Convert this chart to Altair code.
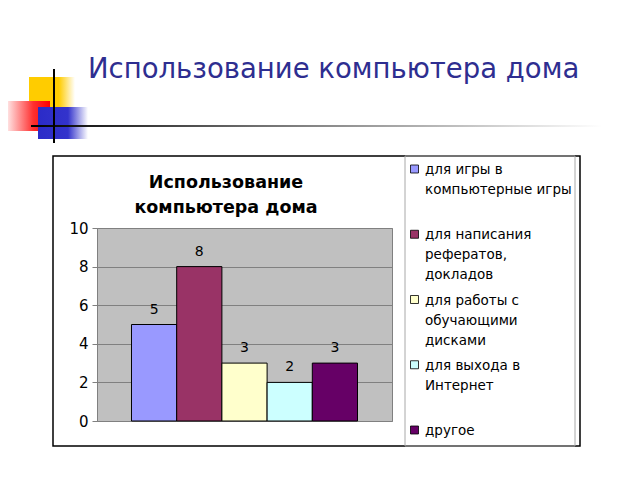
import altair as alt
import pandas as pd

# ---- data ----
categories = [
    "для игры в компьютерные игры",
    "для написания рефератов, докладов",
    "для работы с обучающими дисками",
    "для выхода в Интернет",
    "другое",
]
legend_lines = [
    "для игры в\nкомпьютерные игры",
    "для написания\nрефератов,\nдокладов",
    "для работы с\nобучающими\nдисками",
    "для выхода в\nИнтернет",
    "другое",
]
values = [5, 8, 3, 2, 3]
colors = ["#9999FF", "#993366", "#FFFFCC", "#CCFFFF", "#660066"]
y_ticks = [0, 2, 4, 6, 8, 10]
slide_title = "Использование компьютера дома"
chart_title = ["Использование", "компьютера дома"]

FONT = "DejaVu Sans"

df = pd.DataFrame({"cat": categories, "val": values, "leg": legend_lines})
one = pd.DataFrame({"k": [0]})

color = alt.Color("cat:N", scale=alt.Scale(domain=categories, range=colors), legend=None)
xenc = alt.X("cat:N", sort=categories, axis=None,
             scale=alt.Scale(paddingInner=0, paddingOuter=0.763))
yscale = alt.Scale(domain=[0, 10], nice=False)


def grad(stops):
    return alt.Gradient(
        gradient="linear", x1=0, x2=1, y1=0, y2=0,
        stops=[alt.GradientStop(color=c, offset=o) for o, c in stops],
    )


def box(x1, x2, y1, y2, **kw):
    return alt.Chart(one).mark_rect(**kw).encode(
        x=alt.value(x1), x2=alt.value(x2), y=alt.value(y1), y2=alt.value(y2)
    )


def label(txt, x, y, **kw):
    return alt.Chart(one).mark_text(**kw).encode(
        x=alt.value(x), y=alt.value(y), text=alt.value(txt)
    )


# ---- slide decorations ----
yellow = box(-68, -22, -151, -110,
             fill=grad([(0, "#FFCC00"), (0.65, "#FFCC00"), (1, "#FFFFFF")]))
blue = box(-59, -9, -121, -89,
           fill=grad([(0, "#2B2BC8"), (0.6, "#3333CC"), (1, "#FFFFFF")]))
red = box(-89, -47, -127, -97,
          fill=grad([(0, "#FFE0E0"), (0.6, "#FF3030"), (1, "#FF0000")]))
hline = box(-66, 505, -103, -101,
            fill=grad([(0, "#000000"), (0.4, "#707070"), (0.75, "#C0C0C0"), (1, "#FFFFFF")]))
vline = box(-44, -42, -159, -85, fill="#000000")
title_txt = label(slide_title, -9, -150, align="left", baseline="alphabetic",
                  font=FONT, fontSize=27.5, color="#2E2E90")

# ---- chart frame ----
border = box(-44, 483, -72, 218, filled=False, stroke="#000000", strokeWidth=1.5)
legend_box = box(308, 478, -72, 218, filled=False, stroke="#A8A8A8", strokeWidth=1)
ct1 = label(chart_title[0], 129, -40, align="center", baseline="alphabetic",
            font=FONT, fontSize=17.5, fontWeight="bold", color="#000000")
ct2 = label(chart_title[1], 129, -15, align="center", baseline="alphabetic",
            font=FONT, fontSize=17.5, fontWeight="bold", color="#000000")

# ---- bars ----
bars = alt.Chart(df).mark_bar(stroke="#000000", strokeWidth=1).encode(
    x=xenc,
    y=alt.Y("val:Q", scale=yscale, title=None,
            axis=alt.Axis(values=y_ticks, grid=True)),
    color=color,
)
vals = alt.Chart(df).mark_text(baseline="alphabetic", dy=-11, font=FONT,
                               fontSize=14, color="#000000").encode(
    x=xenc,
    y=alt.Y("val:Q", scale=yscale, axis=None),
    text="val:Q",
)

# ---- legend ----
leg_y = alt.Y("cat:N", sort=categories, axis=None,
              scale=alt.Scale(type="point", range=[-59, 202], padding=0))
leg_sym = alt.Chart(df).mark_square(size=64, stroke="#000000", strokeWidth=0.8,
                                    opacity=1).encode(
    x=alt.value(317.5), y=leg_y, color=color
)
leg_txt = alt.Chart(df).mark_text(align="left", baseline="alphabetic", dy=5,
                                  lineBreak="\n", lineHeight=20, font=FONT,
                                  fontSize=13.5, color="#000000").encode(
    x=alt.value(328), y=leg_y, text="leg:N"
)

chart = alt.layer(
    yellow, red, blue, hline, vline, title_txt,
    border, legend_box, ct1, ct2,
    bars, vals, leg_sym, leg_txt,
).resolve_scale(y="independent").properties(
    width=295, height=193,
    autosize=alt.AutoSizeParams(type="none"),
    padding={"left": 89, "top": 220, "right": 240, "bottom": 40},
    background="white",
).configure_view(
    stroke="#808080", fill="#C0C0C0"
).configure_axis(
    gridColor="#808080", gridWidth=1, domainColor="#808080",
    tickColor="#808080", tickSize=5, labelFont=FONT, labelFontSize=15,
    labelColor="#000000", labelPadding=4,
)

chart.save("out.html", embed_options={"renderer": "svg", "actions": False})
